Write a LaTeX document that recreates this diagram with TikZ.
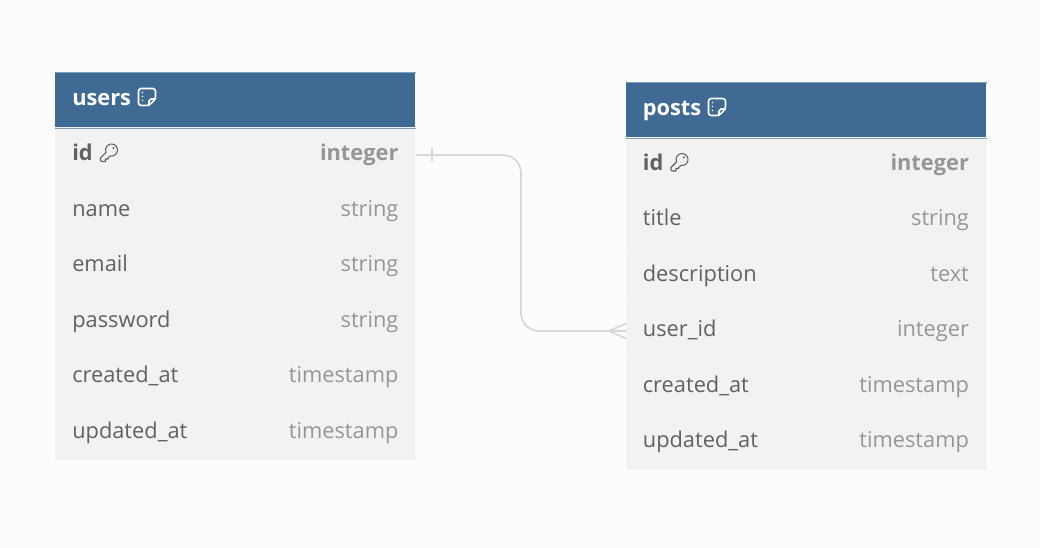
\documentclass[tikz,border=0pt]{standalone}
\usepackage{fontspec}
\setmainfont{Open Sans}
\definecolor{pagebg}{HTML}{FCFCFC}
\definecolor{headbg}{HTML}{3E6A94}
\definecolor{headedge}{HTML}{7F9DB8}
\definecolor{rowbg}{HTML}{F2F2F2}
\definecolor{rowline}{HTML}{F4F4F4}
\definecolor{nametxt}{HTML}{616161}
\definecolor{typetxt}{HTML}{969696}
\definecolor{linkcol}{HTML}{D8D8D8}
\tikzset{
  x=0.75pt,y=-0.75pt,
  headbox/.style={fill=headbg,draw=none,minimum width=270pt,minimum height=41.5pt,inner sep=0pt,anchor=north west},
  rowbox/.style={fill=rowbg,draw=none,minimum width=270pt,minimum height=41.55pt,inner sep=0pt,anchor=north west},
  title/.style={text=white,font=\fontsize{16.35pt}{18pt}\selectfont\bfseries,anchor=base west,inner sep=0pt},
  colname/.style={text=nametxt,font=\fontsize{16.35pt}{18pt}\selectfont,anchor=base west,inner sep=0pt},
  coltype/.style={text=typetxt,font=\fontsize{16.35pt}{18pt}\selectfont,anchor=base east,inner sep=0pt},
  pkname/.style={colname,font=\fontsize{16.35pt}{18pt}\selectfont\bfseries},
  pktype/.style={coltype,font=\fontsize{16.35pt}{18pt}\selectfont\bfseries},
  link/.style={draw=linkcol,line width=1.25pt,rounded corners=13.5pt},
  linkmark/.style={draw=linkcol,line width=1.25pt},
  icon/.style={line width=1.2pt,line join=round,line cap=round},
  divider/.style={draw=rowline,line width=0.4pt},
  headedgeline/.style={draw=headedge,line width=0.3pt},
}
\newcommand{\noteicon}[2]{%
  \draw[icon,draw=white,rounded corners=2pt] (#1,#2) -- ++(17,0) -- ++(0,10.5) -- ++(-6.5,6.5) -- ++(-10.5,0) -- cycle;
  \draw[icon,draw=white] (#1+17,#2+10.5) -- ++(-4.5,0) -- ++(-2,2) -- ++(0,4.5);
  \foreach \dy in {4,8,12}{\fill[white] (#1+4,#2+\dy) circle[radius=0.9];}
}
\newcommand{\keyicon}[2]{%
  \draw[icon,draw=nametxt,line width=0.8pt]
    (#1+5.6,#2+5.5) arc[start angle=170,end angle=-100,radius=4.5pt]
    -- (#1+8,#2+14.5) -- (#1+8,#2+15.5) -- (#1+5.5,#2+15.5) -- (#1+5.5,#2+18)
    -- (#1+1.5,#2+18) -- (#1+0.5,#2+17) -- (#1+0.5,#2+14.5) -- (#1+6,#2+9) -- cycle;
  \fill[nametxt] (#1+13.5,#2+4.5) circle[radius=1.1];
}
\begin{document}
\begin{tikzpicture}
\useasboundingbox[fill=pagebg] (0,0) rectangle (1040,548);
% users
\node[headbox] (uh) at (55,72) {};
\node[rowbox] (u1) at (55,127) {};
\node[rowbox] (u2) at (55,182.5) {};
\node[rowbox] (u3) at (55,238) {};
\node[rowbox] (u4) at (55,293.5) {};
\node[rowbox] (u5) at (55,349) {};
\node[rowbox] (u6) at (55,404.4) {};
\draw[headedgeline] (uh.north west) -- (uh.north east);
\draw[headedgeline] (uh.south west) -- (uh.south east);
\draw[divider] (u1.south west) -- (u1.south east);
\draw[divider] (u2.south west) -- (u2.south east);
\draw[divider] (u3.south west) -- (u3.south east);
\draw[divider] (u4.south west) -- (u4.south east);
\draw[divider] (u5.south west) -- (u5.south east);
\node[title] (ut) at (72,105.2) {users};
\noteicon{138.5}{88.5}
\node[pkname] (un1) at (72,161) {id};
\keyicon{100}{143.5}
\node[pktype] (ut1) at (398.7,161) {integer};
\node[colname] (un2) at (72,216.5) {name};
\node[coltype] (ut2) at (398.7,216.5) {string};
\node[colname] (un3) at (72,271.5) {email};
\node[coltype] (ut3) at (398.7,271.5) {string};
\node[colname] (un4) at (72,327.5) {password};
\node[coltype] (ut4) at (398.7,327.5) {string};
\node[colname] (un5) at (72,382.5) {created\_at};
\node[coltype] (ut5) at (398.7,382.5) {timestamp};
\node[colname] (un6) at (72,438.2) {updated\_at};
\node[coltype] (ut6) at (398.7,438.2) {timestamp};
% posts
\node[headbox] (ph) at (626,82) {};
\node[rowbox] (p1) at (626,137) {};
\node[rowbox] (p2) at (626,192.4) {};
\node[rowbox] (p3) at (626,247.8) {};
\node[rowbox] (p4) at (626,303.2) {};
\node[rowbox] (p5) at (626,358.6) {};
\node[rowbox] (p6) at (626,413.9) {};
\draw[headedgeline] (ph.north west) -- (ph.north east);
\draw[headedgeline] (ph.south west) -- (ph.south east);
\draw[divider] (p1.south west) -- (p1.south east);
\draw[divider] (p2.south west) -- (p2.south east);
\draw[divider] (p3.south west) -- (p3.south east);
\draw[divider] (p4.south west) -- (p4.south east);
\draw[divider] (p5.south west) -- (p5.south east);
\node[title] (pt) at (642.6,115.4) {posts};
\noteicon{708.5}{98.5}
\node[pkname] (pn1) at (642.6,170.5) {id};
\keyicon{670.5}{153}
\node[pktype] (pt1) at (969.2,170.5) {integer};
\node[colname] (pn2) at (642.6,225.5) {title};
\node[coltype] (pt2) at (969.2,225.5) {string};
\node[colname] (pn3) at (642.6,281.5) {description};
\node[coltype] (pt3) at (969.2,281.5) {text};
\node[colname] (pn4) at (642.6,336.5) {user\_id};
\node[coltype] (pt4) at (969.2,336.5) {integer};
\node[colname] (pn5) at (642.6,392.4) {created\_at};
\node[coltype] (pt5) at (969.2,392.4) {timestamp};
\node[colname] (pn6) at (642.6,447.5) {updated\_at};
\node[coltype] (pt6) at (969.2,447.5) {timestamp};
% connector
\coordinate (ca) at (416,155);
\coordinate (cb) at (626,331);
\draw[link] (ca) -- (521,155) -- (521,331) -- (cb);
\coordinate (bar1) at (432,148.5);
\coordinate (bar2) at (432,161.5);
\draw[linkmark] (bar1) -- (bar2);
\coordinate (crow) at (609,331);
\coordinate (crow1) at (626,323.5);
\coordinate (crow2) at (626,338.5);
\draw[linkmark] (crow1) -- (crow) -- (crow2);
\end{tikzpicture}
\end{document}
